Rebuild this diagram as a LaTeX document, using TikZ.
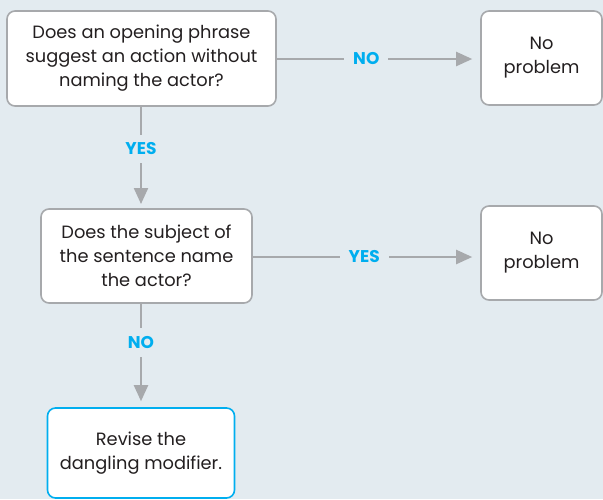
\documentclass[tikz,border=0pt]{standalone}
\usepackage{fontspec}
\setmainfont{Poppins}
\usetikzlibrary{arrows.meta}
\definecolor{bgblue}{HTML}{E3EBF0}
\definecolor{edgegray}{HTML}{A7A9AC}
\definecolor{answercyan}{HTML}{00AEEF}
\definecolor{textgray}{HTML}{231F20}
\tikzset{
  x=1pt, y=-1pt,
  qbox/.style={draw=edgegray, line width=1.6pt, fill=white, rounded corners=8pt,
    align=center, text=textgray, font=\fontsize{17.8}{24}\selectfont, inner sep=0pt},
  endbox/.style={qbox, draw=answercyan},
  flow/.style={draw=edgegray, line width=2.2pt,
    -{Triangle[length=16pt,width=14pt]}},
  answer/.style={fill=bgblue, text=answercyan, inner xsep=9pt, inner ysep=3pt,
    font=\fontsize{17}{18}\bfseries\selectfont}
}
\begin{document}
\begin{tikzpicture}
  \fill[bgblue] (0,0) rectangle (603,499);
  \useasboundingbox (0,0) rectangle (603,499);

  \node[qbox, minimum width=269pt, minimum height=95pt] (q1) at (141.5,58.5)
    {Does an opening phrase\\suggest an action without\\naming the actor?};
  \node[qbox, minimum width=121pt, minimum height=94pt] (ok1) at (541.5,58)
    {No\\problem};
  \node[qbox, minimum width=211pt, minimum height=94pt] (q2) at (146.5,256)
    {Does the subject of\\the sentence name\\the actor?};
  \node[qbox, minimum width=121pt, minimum height=94pt] (ok2) at (541.5,253)
    {No\\problem};
  \node[endbox, minimum width=187pt, minimum height=90pt] (fix) at (141,453)
    {Revise the\\dangling modifier.};

  \draw[flow, shorten >=8pt] (q1.east |- 0,59) -- (ok1.west |- 0,59)
    node[answer, pos=0.44] {NO};
  \draw[flow, shorten >=4pt] (141,106) -- (141,208)
    node[answer, pos=0.42, inner xsep=3pt, inner ysep=8pt] {YES};
  \draw[flow, shorten >=8pt] (q2.east |- 0,257) -- (ok2.west |- 0,257)
    node[answer, pos=0.49] {YES};
  \draw[flow, shorten >=6pt] (141,303) -- (fix.north -| 141,0)
    node[answer, pos=0.38, inner xsep=3pt, inner ysep=8pt] {NO};
\end{tikzpicture}
\end{document}
